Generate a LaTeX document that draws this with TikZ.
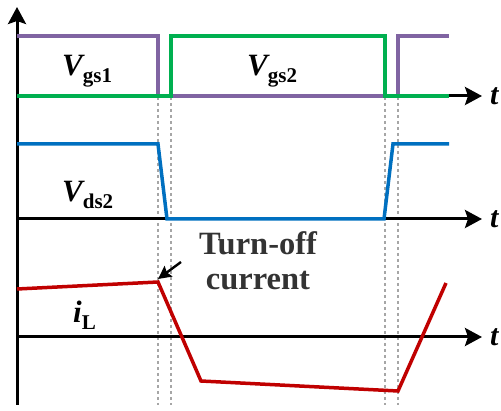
\documentclass[tikz,border=0pt]{standalone}
\usepackage{fontspec}
\setmainfont{Liberation Serif}
\usetikzlibrary{arrows.meta}
\definecolor{cpurple}{HTML}{8064A2}
\definecolor{cgreen}{HTML}{00B050}
\definecolor{cblue}{HTML}{0070C0}
\definecolor{cred}{HTML}{C00000}
\definecolor{cguide}{HTML}{A6A6A6}
\definecolor{ctext}{HTML}{333333}
\newcommand{\sig}[2]{#1{\fontsize{21}{21}\selectfont\upshape\raisebox{-7pt}{#2}}}
\begin{document}
\begin{tikzpicture}[x=1pt,y=-1pt,
  wave/.style={line width=3.5pt},
  axisline/.style={line width=3pt,-{Stealth[length=17pt,width=18pt,inset=3pt]}},
  guide/.style={draw=cguide,line width=1.6pt,dash pattern=on 3pt off 3pt},
  lbl/.style={inner sep=0pt,anchor=base west,font=\bfseries\itshape\fontsize{31}{31}\selectfont},
  tlbl/.style={inner sep=0pt,anchor=base west,font=\bfseries\itshape\fontsize{30}{30}\selectfont},
  note/.style={inner sep=0pt,align=center,text=ctext,font=\bfseries\fontsize{32.5}{35}\selectfont},
  pointer/.style={line width=2.4pt,-{Stealth[length=13pt,width=13pt,inset=2pt]}}]
\useasboundingbox (0,0) rectangle (501,411);
% guides
\foreach \gx/\nm in {158/ga,171/gb,385/gc,398/gd}{
  \coordinate (\nm top) at (\gx,97);
  \coordinate (\nm bot) at (\gx,405);
  \draw[guide] (\nm top) -- (\nm bot);
}
% axes
\coordinate (o) at (17,405);
\coordinate (ytop) at (17,7);
\draw[axisline] (o) -- (ytop);
\coordinate (a1) at (17,96);  \coordinate (a1e) at (482,96);
\coordinate (a2) at (17,219); \coordinate (a2e) at (482,219);
\coordinate (a3) at (17,337); \coordinate (a3e) at (482,337);
\draw[axisline] (a1) -- (a1e);
\draw[axisline] (a2) -- (a2e);
\draw[axisline] (a3) -- (a3e);
\node[tlbl] (t1) at (490,105) {t};
\node[tlbl] (t2) at (490,228) {t};
\node[tlbl] (t3) at (490,346) {t};
% waveforms
\draw[wave,cpurple] (17,36) -- (158,36) -- (158,96) -- (398,96) -- (398,36) -- (449,36);
\draw[wave,cgreen] (17,96) -- (171,96) -- (171,36) -- (385,36) -- (385,96) -- (449,96);
\draw[wave,cblue] (17,144) -- (158,144) -- (167,219) -- (384,219) -- (393,144) -- (449,144);
\coordinate (pk) at (158,282);
\draw[wave,cred] (17,289) -- (pk) -- (201,381) -- (398,391) -- (446,283);
% labels
\node[lbl] (vgs1) at (62,76) {\sig{V}{gs1}};
\node[lbl] (vgs2) at (247,76) {\sig{V}{gs2}};
\node[lbl] (vds2) at (62,202) {\sig{V}{ds2}};
\node[lbl] (il) at (73,323) {\sig{i}{L}};
\node[note] (toff) at (258,261) {Turn-off\\current};
\coordinate (ptail) at (181,262);
\coordinate (phead) at (158,279);
\draw[pointer] (ptail) -- (phead);
\end{tikzpicture}
\end{document}
